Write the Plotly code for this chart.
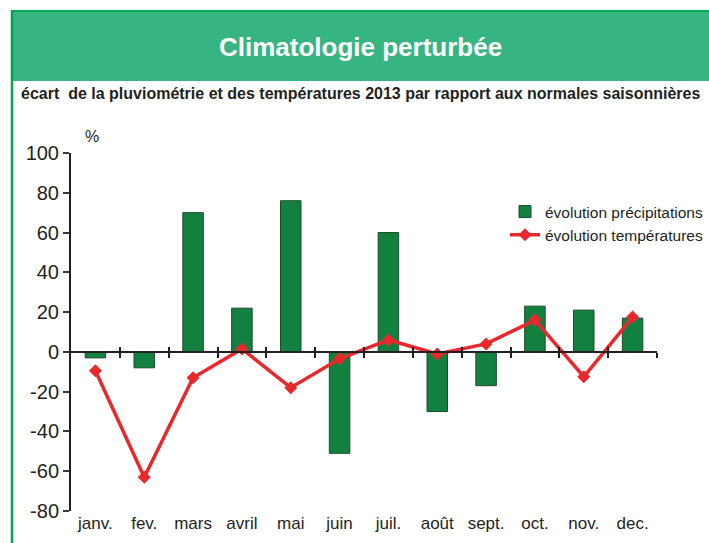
import plotly.graph_objects as go

months = ["janv.", "fev.", "mars", "avril", "mai", "juin", "juil.", "août", "sept.", "oct.", "nov.", "dec."]
precipitations = [-3, -8, 70, 22, 76, -51, 60, -30, -17, 23, 21, 17]
temperatures = [-9.5, -63, -13, 1.5, -18, -3.5, 6, -1, 4, 16, -12.5, 17.5]
y_ticks = [-80, -60, -40, -20, 0, 20, 40, 60, 80, 100]
y_ticktext = [str(v) for v in y_ticks]

W, H = 709, 543
def px_x(v): return v / W
def px_y(v): return 1 - v / H

x_idx = list(range(len(months)))
boundaries = [i + 0.5 for i in range(len(months))]

fig = go.Figure()
fig.add_trace(go.Bar(
    x=x_idx, y=precipitations, name="évolution précipitations",
    marker=dict(color="#12813f", line=dict(color="#1f4a2c", width=1)),
    width=0.42,
))
fig.add_trace(go.Scatter(
    x=x_idx, y=temperatures, name="évolution températures", mode="lines+markers",
    line=dict(color="#e8282c", width=3.5),
    marker=dict(symbol="diamond", size=10, color="#e8282c"),
))
fig.add_trace(go.Scatter(x=[-0.5, 11.5], y=[0, 0], xaxis="x2", mode="lines",
                         line=dict(width=0), showlegend=False, hoverinfo="skip"))
fig.add_trace(go.Scatter(x=[-0.5, 11.5], y=[0, 0], xaxis="x3", mode="lines",
                         line=dict(width=0), showlegend=False, hoverinfo="skip"))

dom_x = [px_x(71), px_x(657)]
dom_y = [px_y(511), px_y(153)]
zero_pos = px_y(352)

fig.update_layout(
    width=W, height=H, autosize=False,
    margin=dict(l=0, r=0, t=0, b=0, pad=0, autoexpand=False),
    paper_bgcolor="white", plot_bgcolor="rgba(0,0,0,0)",
    font=dict(family="Liberation Sans, Arial, sans-serif", color="#231f20"),
    showlegend=True,
    legend=dict(x=px_x(505), y=px_y(195), xanchor="left", yanchor="top",
                font=dict(size=15.5, color="#231f20"), bgcolor="rgba(0,0,0,0)",
                tracegroupgap=0, itemwidth=30),
    xaxis=dict(domain=dom_x, range=[-0.5, 11.5], tickmode="array", tickvals=x_idx,
               ticktext=months, showline=False, showgrid=False, zeroline=False,
               ticks="", automargin=False, tickfont=dict(size=17, color="#231f20")),
    xaxis2=dict(domain=dom_x, range=[-0.5, 11.5], overlaying="x", anchor="free",
                position=zero_pos, showline=True, linecolor="#231f20", linewidth=1.5,
                tickmode="array", tickvals=boundaries, ticks="outside", ticklen=5,
                tickwidth=1.5, tickcolor="#231f20", showticklabels=False, showgrid=False,
                zeroline=False, automargin=False),
    xaxis3=dict(domain=dom_x, range=[-0.5, 11.5], overlaying="x", anchor="free",
                position=zero_pos, showline=False,
                tickmode="array", tickvals=boundaries, ticks="inside", ticklen=5,
                tickwidth=1.5, tickcolor="#231f20", showticklabels=False, showgrid=False,
                zeroline=False, automargin=False),
    yaxis=dict(domain=dom_y, range=[-80, 100], tickmode="array", tickvals=y_ticks,
               ticktext=y_ticktext,
               showline=True, linecolor="#231f20", linewidth=2, ticks="outside",
               ticklen=6, tickwidth=2, tickcolor="#3a3a3a", showgrid=False,
               zeroline=False, automargin=False, tickfont=dict(size=20, color="#231f20")),
)

fig.add_shape(type="rect", xref="paper", yref="paper",
              x0=px_x(11), x1=1.0, y0=px_y(81), y1=px_y(10),
              fillcolor="#36b583", line=dict(width=0), layer="below")
fig.add_shape(type="line", xref="paper", yref="paper",
              x0=px_x(11), x1=1.0, y0=px_y(11), y1=px_y(11),
              line=dict(color="#00a651", width=2))
fig.add_shape(type="line", xref="paper", yref="paper",
              x0=px_x(12), x1=px_x(12), y0=0, y1=px_y(10),
              line=dict(color="#00a651", width=2.5))

fig.add_annotation(text="<b>Climatologie perturbée</b>", xref="paper", yref="paper",
                   x=px_x(360), y=px_y(47), xanchor="center", yanchor="middle",
                   showarrow=False, font=dict(size=26, color="white"))
fig.add_annotation(text="<b>écart  de la pluviométrie et des températures 2013 par rapport aux normales saisonnières</b>",
                   xref="paper", yref="paper", x=px_x(19), y=px_y(93),
                   xanchor="left", yanchor="middle", showarrow=False,
                   font=dict(size=16, color="#231f20"))
fig.add_annotation(text="%", xref="paper", yref="paper", x=px_x(92), y=px_y(136),
                   xanchor="center", yanchor="middle", showarrow=False,
                   font=dict(size=16, color="#231f20"))

fig.write_html("out.html", config={"displayModeBar": False},
               post_script="document.body.style.margin='0';document.body.style.overflow='hidden';")
